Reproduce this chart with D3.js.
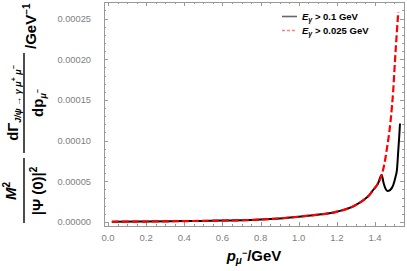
<!DOCTYPE html>
<html>
<head>
<meta charset="utf-8">
<script src="https://cdn.jsdelivr.net/npm/d3@7"></script>
<style>
  body { margin: 0; background: #fff; }
  svg { display: block; font-family: "Liberation Sans", Arial, sans-serif; }
</style>
</head>
<body>
<svg id="chart" width="407" height="271"></svg>
<script>
// momentum of mu- (GeV) and differential width (GeV^-1)
const pBase = [0.02, 0.2, 0.4, 0.6, 0.75, 0.8, 0.9, 1.0, 1.1, 1.16, 1.2, 1.27, 1.3, 1.34, 1.37, 1.39, 1.415, 1.435];
const vBase = [0.3e-6, 0.6e-6, 1.1e-6, 1.8e-6, 2.5e-6, 3.0e-6, 4.4e-6, 6.5e-6, 9.0e-6, 10.7e-6, 12.7e-6, 17.6e-6, 21e-6, 27e-6, 33e-6, 39.3e-6, 47e-6, 57.7e-6];

const pBlackTail = [1.445, 1.455, 1.465, 1.48, 1.495, 1.508, 1.515, 1.522, 1.527, 1.531];
const vBlackTail = [48e-6, 41e-6, 38.1e-6, 39.5e-6, 45e-6, 56e-6, 64e-6, 88e-6, 105e-6, 121e-6];

const pRedTail = [1.448, 1.461, 1.482, 1.495, 1.505, 1.515, 1.522];
const vRedTail = [70e-6, 88e-6, 125e-6, 160e-6, 199e-6, 235e-6, 258e-6];

const xTicks = [0.0, 0.2, 0.4, 0.6, 0.8, 1.0, 1.2, 1.4];
const yTicks = [0, 0.00005, 0.0001, 0.00015, 0.0002, 0.00025];
const legendLabels = ["> 0.1 GeV", "> 0.025 GeV"];

const svg = d3.select('#chart');
const fLeft = 104, fRight = 404, fTop = 2, fBottom = 226;

const x = d3.scaleLinear().domain([-0.021, 1.552]).range([fLeft, fRight]);
const y = d3.scaleLinear().domain([-4.9e-6, 2.703e-4]).range([fBottom, fTop]);

const black = pBase.concat(pBlackTail).map((p, i) => [p, vBase.concat(vBlackTail)[i]]);
const red = pBase.concat(pRedTail).map((p, i) => [p, vBase.concat(vRedTail)[i]]);

const gray = '#999';

// frame
svg.append('rect')
  .attr('x', fLeft + 0.5).attr('y', fTop + 0.5)
  .attr('width', fRight - fLeft).attr('height', fBottom - fTop)
  .attr('fill', 'none').attr('stroke', gray).attr('stroke-width', 1);

// ticks, inside on all four sides
const minorX = d3.range(0, 1.56, 0.05);
const minorY = d3.range(0, 0.00027, 0.00001);

function tickLines(vals, isMajor, horiz) {
  const len = isMajor ? 4 : 2;
  vals.forEach(v => {
    if (horiz) {
      const px = Math.round(x(v)) + 0.5;
      svg.append('line').attr('x1', px).attr('x2', px).attr('y1', fBottom).attr('y2', fBottom - len).attr('stroke', gray);
      svg.append('line').attr('x1', px).attr('x2', px).attr('y1', fTop).attr('y2', fTop + len).attr('stroke', gray);
    } else {
      const py = Math.round(y(v)) + 0.5;
      svg.append('line').attr('y1', py).attr('y2', py).attr('x1', fLeft).attr('x2', fLeft + len).attr('stroke', gray);
      svg.append('line').attr('y1', py).attr('y2', py).attr('x1', fRight).attr('x2', fRight - len).attr('stroke', gray);
    }
  });
}
tickLines(minorX, false, true);
tickLines(xTicks, true, true);
tickLines(minorY, false, false);
tickLines(yTicks, true, false);

svg.append('g').selectAll('text').data(xTicks).join('text')
  .attr('x', d => x(d)).attr('y', 241)
  .attr('text-anchor', 'middle')
  .attr('font-size', 9.5).attr('fill', '#808080')
  .text(d => d.toFixed(1));

svg.append('g').selectAll('text').data(yTicks).join('text')
  .attr('x', 91).attr('y', d => y(d) + 3.3)
  .attr('text-anchor', 'end')
  .attr('font-size', 9.3).attr('fill', '#808080')
  .text(d => d.toFixed(5));

// curves
const line = d3.line()
  .x(d => x(d[0]))
  .y(d => y(d[1]))
  .curve(d3.curveMonotoneX);

svg.append('path')
  .attr('d', line(black))
  .attr('fill', 'none').attr('stroke', '#000').attr('stroke-width', 2);

svg.append('path')
  .attr('d', line(red))
  .attr('fill', 'none').attr('stroke', '#ff0000').attr('stroke-width', 2.2)
  .attr('stroke-dasharray', '7,3');

// legend
const legendColors = ['#666', '#ff8080'];
const legendDash = [null, '3,2'];
legendLabels.forEach((lab, i) => {
  const ly = 16.5 + i * 14;
  svg.append('line')
    .attr('x1', 282).attr('x2', 297).attr('y1', ly).attr('y2', ly)
    .attr('stroke', legendColors[i]).attr('stroke-width', 1.6)
    .attr('stroke-dasharray', legendDash[i]);
  const t = svg.append('text')
    .attr('x', 302).attr('y', ly + 3.3)
    .attr('font-size', 9.5).attr('font-weight', 'bold');
  t.append('tspan').attr('font-style', 'italic').text('E');
  t.append('tspan').attr('font-style', 'italic').attr('font-size', 7).attr('dy', 2).text('γ');
  t.append('tspan').attr('dy', -2).text(' ' + lab);
});

// x label
const xl = svg.append('text')
  .attr('x', 254).attr('y', 261)
  .attr('text-anchor', 'middle')
  .attr('font-size', 15).attr('font-weight', 'bold');
xl.append('tspan').attr('font-style', 'italic').text('p');
xl.append('tspan').attr('font-style', 'italic').attr('font-size', 10).attr('dy', 3).text('μ');
xl.append('tspan').attr('font-size', 9).attr('dy', -8).text('−');
xl.append('tspan').attr('dy', 5).text('/GeV');

// y label, drawn rotated
const yl = svg.append('g').attr('transform', 'translate(0,226) rotate(-90)');

yl.append('line').attr('x1', 3).attr('x2', 68).attr('y1', 24).attr('y2', 24).attr('stroke', '#000').attr('stroke-width', 1.4);
const m2 = yl.append('text').attr('x', 35).attr('y', 16).attr('text-anchor', 'middle')
  .attr('font-size', 15).attr('font-weight', 'bold');
m2.append('tspan').attr('font-style', 'italic').text('M');
m2.append('tspan').attr('font-size', 10).attr('dy', -6).text('2');

const psi = yl.append('text').attr('x', 35).attr('y', 43).attr('text-anchor', 'middle')
  .attr('font-size', 15).attr('font-weight', 'bold');
psi.append('tspan').text('|Ψ (0)|');
psi.append('tspan').attr('font-size', 10).attr('dy', -6).text('2');

yl.append('line').attr('x1', 73).attr('x2', 173).attr('y1', 24).attr('y2', 24).attr('stroke', '#000').attr('stroke-width', 1.4);
const num = yl.append('text').attr('x', 123).attr('y', 18).attr('text-anchor', 'middle')
  .attr('font-size', 15).attr('font-weight', 'bold');
num.append('tspan').text('dΓ');
num.append('tspan').attr('font-size', 9).attr('font-style', 'italic').attr('dy', 3).text('J/ψ → γ μ');
num.append('tspan').attr('font-size', 7).attr('dy', -5).text('+');
num.append('tspan').attr('font-size', 9).attr('font-style', 'italic').attr('dy', 5).text(' μ');
num.append('tspan').attr('font-size', 7).attr('dy', -5).text('−');

const den = yl.append('text').attr('x', 123).attr('y', 43).attr('text-anchor', 'middle')
  .attr('font-size', 15).attr('font-weight', 'bold');
den.append('tspan').text('dp');
den.append('tspan').attr('font-size', 9).attr('font-style', 'italic').attr('dy', 3).text('μ');
den.append('tspan').attr('font-size', 7).attr('dy', -6).text('−');

const unit = yl.append('text').attr('x', 177).attr('y', 36)
  .attr('font-size', 15).attr('font-weight', 'bold');
unit.append('tspan').text('/GeV');
unit.append('tspan').attr('font-size', 10).attr('dy', -6).text('−1');
</script>
</body>
</html>
